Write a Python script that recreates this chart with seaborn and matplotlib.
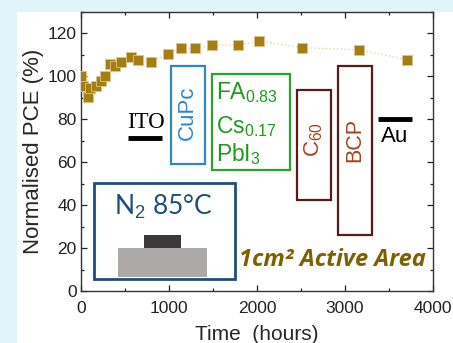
import matplotlib
matplotlib.use("Agg")
import matplotlib.pyplot as plt
import seaborn as sns
import pandas as pd
from matplotlib.patches import Rectangle
from matplotlib.ticker import MultipleLocator

# data
time_h = [0, 20, 80, 100, 170, 225, 270, 325, 390, 450, 565, 650, 790,
          985, 1135, 1295, 1490, 1780, 2020, 2510, 3160, 3710]
pce = [100, 95.3, 90.2, 94.5, 95.5, 97.8, 100.4, 105.8, 104.8, 106.8, 108.8,
       107.8, 106.6, 110.3, 113, 113, 114.8, 114.4, 116.6, 113.4, 112.4, 107.7]
x_ticks = [0, 1000, 2000, 3000, 4000]
y_ticks = [0, 20, 40, 60, 80, 100, 120]

df = pd.DataFrame({"time": time_h, "pce": pce})

sns.set_style("ticks")
plt.rcParams["font.family"] = ["Liberation Sans", "DejaVu Sans"]
plt.rcParams["mathtext.fontset"] = "custom"
plt.rcParams["mathtext.rm"] = "Liberation Sans"

fig = plt.figure(figsize=(4.53, 3.43), dpi=100)
fig.patch.set_facecolor("#e1f3fb")
fig.patches.append(Rectangle((17 / 453, 0), 1, 1 - 12 / 343, transform=fig.transFigure,
                             facecolor="white", edgecolor="none", zorder=-10))

ax = fig.add_axes([81 / 453, 52 / 343, 352 / 453, 279 / 343])
ax.set_facecolor("none")

sns.lineplot(data=df, x="time", y="pce", ax=ax, color="#e2cb9c", lw=0.9,
             linestyle=(0, (1, 2)), zorder=2)
sns.scatterplot(data=df, x="time", y="pce", ax=ax, marker="s", s=45,
                color="#a47d14", edgecolor="#dcc48a", linewidth=0.6, zorder=3)

ax.set_xlim(0, 4000)
ax.set_ylim(0, 130)
ax.set_xticks(x_ticks)
ax.set_yticks(y_ticks)
ax.xaxis.set_minor_locator(MultipleLocator(500))
ax.yaxis.set_minor_locator(MultipleLocator(10))
ax.tick_params(which="both", direction="in", top=True, right=True,
               labelsize=12.5, colors="#222222", width=0.9)
ax.tick_params(which="major", length=4, pad=3)
ax.tick_params(axis="x", which="major", pad=7)
ax.tick_params(which="minor", length=2.5)
for sp in ax.spines.values():
    sp.set_visible(True)
    sp.set_linewidth(1.0)
    sp.set_color("#333333")

ax.set_xlabel("Time  (hours)", fontsize=15, labelpad=7)
ax.set_ylabel("Normalised PCE (%)", fontsize=16, labelpad=3)

# device stack annotations
def box(x, y, w, h, ec, lw=1.6):
    ax.add_patch(Rectangle((x, y), w, h, facecolor="none", edgecolor=ec, lw=lw, zorder=4))

ax.plot([531, 920], [71.4, 71.4], color="black", lw=3.5, solid_capstyle="butt")
ax.text(739, 78.6, "ITO", ha="center", va="center", fontsize=16.5,
        family="Liberation Serif", color="black")

box(1020, 59, 385, 46, "#2e86c8")
ax.text(1213, 83, "CuPc", rotation=90, ha="center", va="center", fontsize=16,
        color="#2e86c8")

box(1490, 56.3, 882, 45, "#2ea02e")
for yy, lab in [(92.5, r"$\mathregular{FA_{0.83}}$"),
                (76.8, r"$\mathregular{Cs_{0.17}}$"),
                (63.8, r"$\mathregular{PbI_{3}}$")]:
    ax.text(1535, yy, lab, ha="left", va="center", fontsize=16.5, color="#1f9a1f")

box(2455, 42.2, 386, 51.5, "#5a1a1a")
ax.text(2640, 70.4, r"C$_{60}$", rotation=90, ha="center", va="center",
        fontsize=16, color="#a0451f")

box(2924, 26, 383, 79, "#5a1a1a")
ax.text(3115, 70.4, "BCP", rotation=90, ha="center", va="center", fontsize=15.5,
        color="#a0451f")

ax.plot([3372, 3762], [80, 80], color="black", lw=3.5, solid_capstyle="butt")
ax.text(3568, 71.8, "Au", ha="center", va="center", fontsize=16, color="black")

# N2 inset box
box(151, 5.8, 1599, 44.6, "#1f4e79", lw=2)
ax.text(938, 39.3, r"N$_2$ 85°C", ha="center", va="center", fontsize=19,
        family=["Lato", "DejaVu Sans"], color="#1f4e79")
ax.add_patch(Rectangle((424, 6.5), 1008, 13.4, facecolor="#ada9a9", edgecolor="none", zorder=3))
ax.add_patch(Rectangle((719, 19.9), 417, 6.1, facecolor="#3a3a3a", edgecolor="none", zorder=3))

ax.text(1800, 14.3, "1cm² Active Area", ha="left", va="center", fontsize=17,
        fontweight="bold", fontstyle="italic", family=["Open Sans", "DejaVu Sans"],
        color="#7f6000")

fig.savefig("out.png", dpi=100)
